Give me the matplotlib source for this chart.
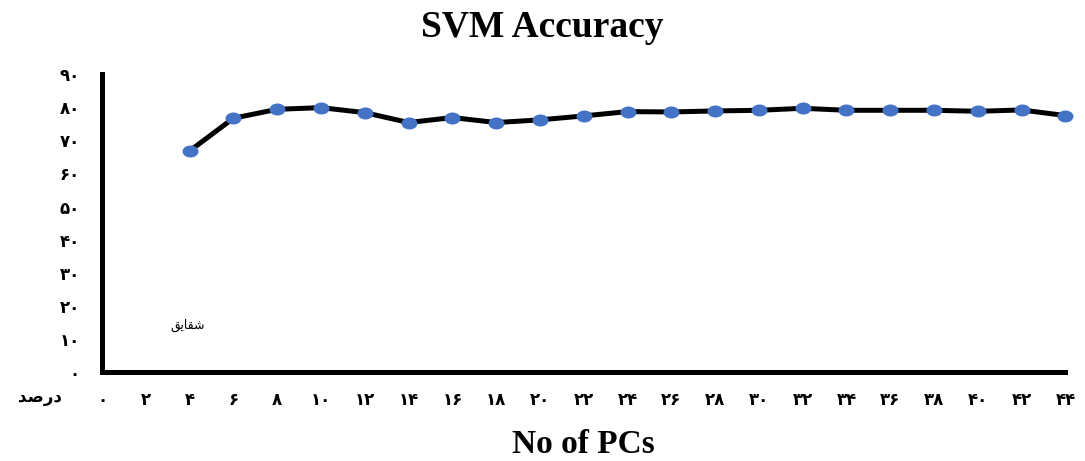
import matplotlib.pyplot as plt
import matplotlib.path as mpath
from matplotlib.transforms import Affine2D
import numpy as np

# number of principal components vs SVM accuracy (percent)
pcs = [4, 6, 8, 10, 12, 14, 16, 18, 20, 22, 24, 26, 28, 30, 32, 34, 36, 38, 40, 42, 44]
accuracy = [66.8, 76.7, 79.4, 79.9, 78.4, 75.4, 76.9, 75.4, 76.2, 77.4, 78.7,
            78.6, 78.9, 79.1, 79.7, 79.1, 79.1, 79.1, 78.8, 79.2, 77.5]
x_ticks = list(range(0, 45, 2))
y_ticks = list(range(0, 91, 10))

persian = str.maketrans('0123456789', '\u06f0\u06f1\u06f2\u06f3\u06f4\u06f5\u06f6\u06f7\u06f8\u06f9')
def fa(n):
    return str(n).translate(persian)

# "درصد" and "شقایق" in presentation forms, visual order
darsad = '\uFEAA\uFEBB\uFEAD\uFEA9'
shaghayegh = '\uFED6\uFEF3\uFE8E\uFED8\uFEB7'

# slightly flattened dot, as in the original
ellipse = mpath.Path.unit_circle().transformed(Affine2D().scale(1.33, 1.0))

fig = plt.figure(figsize=(10.85, 4.61), dpi=100)
ax = fig.add_axes([0.094, 0.193, 0.888, 0.646])

ax.plot(pcs, accuracy, color='black', lw=3.6, solid_capstyle='round', zorder=2)
ax.plot(pcs, accuracy, ls='none', marker=ellipse, ms=11.5, mfc='#4472C4',
        mec='#4472C4', mew=0, zorder=3, clip_on=False)

ax.set_xlim(0, 44)
ax.set_ylim(0, 90)
ax.set_xticks(x_ticks)
ax.set_xticklabels([fa(v) for v in x_ticks], fontsize=12, fontweight='bold',
                   family='DejaVu Sans')
ax.set_yticks(y_ticks)
ax.set_yticklabels([fa(v) for v in y_ticks], fontsize=12, fontweight='bold',
                   family='DejaVu Sans')
ax.tick_params(axis='x', length=0, pad=14)
ax.tick_params(axis='y', length=0, pad=16)

for side in ['top', 'right']:
    ax.spines[side].set_visible(False)
for side in ['left', 'bottom']:
    ax.spines[side].set_linewidth(3.6)
    ax.spines[side].set_color('black')

fig.suptitle('SVM Accuracy', x=0.5, y=0.978, va='top', fontsize=27,
             fontweight='bold', family='Liberation Serif')
ax.set_xlabel('No of PCs', fontsize=24, fontweight='bold',
              family='Liberation Serif', labelpad=14)

fig.text(0.037, 0.139, darsad, fontsize=12, fontweight='bold',
         family='DejaVu Sans', ha='center', va='center')
ax.text(3.9, 14, shaghayegh, fontsize=9, family='DejaVu Sans',
        ha='center', va='center')

fig.savefig('out.png', dpi=100)
